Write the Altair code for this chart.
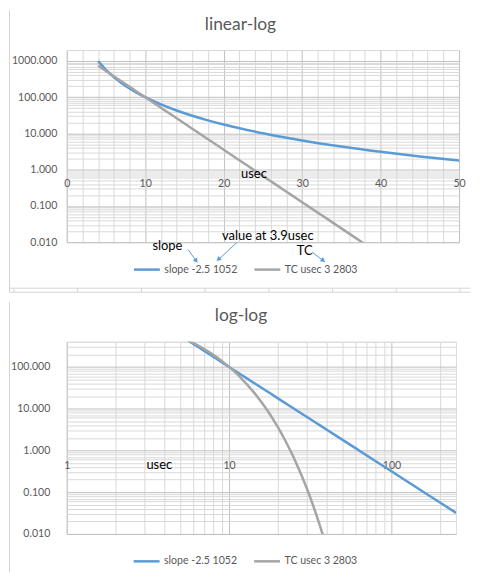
import altair as alt
import pandas as pd

# ---------------- data ----------------
SERIES_SLOPE = "slope -2.5 1052"
SERIES_TC = "TC usec 3 2803"

x_slope = [4, 5, 6, 7, 8, 9, 10, 12, 14, 16, 18, 20, 25, 30, 35, 40, 45, 50,
           60, 80, 100, 150, 200, 250]
y_slope = [988.2, 565.7, 358.6, 244.0, 174.7, 130.1, 100.0, 63.4, 43.1, 30.9,
           23.0, 17.68, 10.12, 6.415, 4.364, 3.125, 2.328, 1.789,
           1.134, 0.5524, 0.3162, 0.1148, 0.0559, 0.0320]

x_tc = [4, 5, 6, 7, 8, 9, 10, 11, 12, 13, 14, 15, 16, 17, 18, 19, 20,
        22, 24, 26, 28, 30, 32, 34, 36, 38, 40]
y_tc = [738.9, 529.4, 379.3, 271.8, 194.8, 139.6, 100.0, 71.65, 51.34, 36.79,
        26.36, 18.89, 13.53, 9.696, 6.948, 4.978, 3.567,
        1.831, 0.9403, 0.4828, 0.2479, 0.1273, 0.06534, 0.03355, 0.01722,
        0.008843, 0.004540]

# axis tick / grid values
top_x_ticks = [0, 2, 4, 6, 8, 10, 12, 14, 16, 18, 20, 22, 24, 26, 28, 30,
               32, 34, 36, 38, 40, 42, 44, 46, 48, 50]
decades_top_y = [0.01, 0.1, 1, 10, 100, 1000]
decades_bot_y = [0.01, 0.1, 1, 10, 100]
decades_bot_x = [1, 10, 100]
multipliers = [1, 2, 3, 4, 5, 6, 7, 8, 9]

top_y_ticks = [m * d for d in decades_top_y for m in multipliers] + [2000]
bot_y_ticks = [m * d for d in decades_bot_y for m in multipliers] + [200, 300, 400]
bot_x_ticks = [m * d for d in decades_bot_x for m in multipliers if m * d <= 250]

TITLE_TOP = "linear-log"
TITLE_BOT = "log-log"
AXIS_NAME = "usec"
NOTE_SLOPE = "slope"
NOTE_VALUE = "value at 3.9usec"
NOTE_TC = "TC"

df = pd.DataFrame({
    "x": x_slope + x_tc,
    "y": y_slope + y_tc,
    "series": [SERIES_SLOPE] * len(x_slope) + [SERIES_TC] * len(x_tc),
})
dummy = pd.DataFrame({"a": [0]})

# ---------------- styling ----------------
BLUE = "#5b9bd5"
GRAY = "#a5a5a5"
MAJOR = "#bfbfbf"
MINOR = "#d9d9d9"
TXT = "#595959"
BORDER = "#d4d4d4"
FONT = "Lato"

DEC = "abs(log(datum.value)/LN10 - round(log(datum.value)/LN10)) < 0.001"


def grid_color(test):
    return {"condition": {"test": test, "value": MAJOR}, "value": MINOR}


def text(s, x, y, size=13, color="black", align="left", baseline="alphabetic"):
    return alt.Chart(dummy).mark_text(
        text=s, font=FONT, fontSize=size, color=color, align=align, baseline=baseline
    ).encode(x=alt.value(x), y=alt.value(y))


def rule(x1, y1, x2, y2, color=BORDER, width=1, opacity=1):
    return alt.Chart(dummy).mark_rule(
        color=color, strokeWidth=width, strokeOpacity=opacity
    ).encode(x=alt.value(x1), y=alt.value(y1), x2=alt.value(x2), y2=alt.value(y2))


def head(x, y, angle):
    return alt.Chart(dummy).mark_point(
        shape="triangle", filled=True, size=28, angle=angle, color=BLUE, opacity=1
    ).encode(x=alt.value(x), y=alt.value(y))


def lines(xscale, xaxis, yscale, yaxis, legend):
    color = alt.Color(
        "series:N",
        scale=alt.Scale(domain=[SERIES_SLOPE, SERIES_TC], range=[BLUE, GRAY]),
        legend=legend,
    )
    out = []
    for s in [SERIES_SLOPE, SERIES_TC]:
        out.append(
            alt.Chart(df)
            .transform_filter(alt.datum.series == s)
            .mark_line(clip=True, strokeWidth=2.5, interpolate="monotone")
            .encode(
                x=alt.X("x:Q", scale=xscale, axis=xaxis),
                y=alt.Y("y:Q", scale=yscale, axis=yaxis),
                color=color,
            )
        )
    return out


def legend(lx, ly):
    # custom path: a 26px horizontal stroke drawn with a nominal 13px symbol size
    return alt.Legend(
        orient="none", legendX=lx, legendY=ly, direction="horizontal", title=None,
        symbolType="M-2,0H2", symbolSize=169, symbolStrokeWidth=2.5,
        labelFont=FONT, labelFontSize=10.6, labelColor=TXT,
        columnPadding=12, labelOffset=9.5,
    )


RIGHT = 405.5  # right end of the panel frame lines (relative to plot origin)

# ---------------- top panel: linear-log ----------------
W1, H1 = 394, 193
top_x_axis = alt.Axis(
    values=top_x_ticks, title=None, grid=True, gridColor=grid_color("datum.value % 10 == 0"),
    gridWidth=1, ticks=False, tickSize=0, domain=False, labelFlush=False,
    labelOverlap=False, labelExpr="datum.value % 10 == 0 ? datum.label : ''",
    labelFont=FONT, labelFontSize=10.6, labelColor=TXT, labelPadding=9,
    offset=-72.8, format="d",
)
top_y_axis = alt.Axis(
    values=top_y_ticks, title=None, grid=True, gridColor=grid_color(DEC), gridWidth=1,
    ticks=False, tickSize=0, domain=False, labelOverlap=False,
    labelExpr=DEC + " ? format(datum.value, '.3f') : ''",
    labelFont=FONT, labelFontSize=10.6, labelColor=TXT, labelPadding=10,
)
sheet_cols = [-53, 11, 75, 139, 203, 267, 331, 395]
top_layers = lines(
    alt.Scale(type="linear", domain=[0, 50], nice=False, zero=False), top_x_axis,
    alt.Scale(type="log", domain=[0.01, 2000], nice=False), top_y_axis,
    legend(72.5, 212.3),
) + [
    text(TITLE_TOP, 174.5, -20.2, size=17.5, color=TXT, align="center"),
    text(AXIS_NAME, 175, 128.5),
    text(NOTE_SLOPE, 86, 200.8),
    text(NOTE_VALUE, 156, 190.3),
    text(NOTE_TC, 231, 205.5),
    rule(122, 200.5, 130, 211.8, color=BLUE),
    rule(171, 193.2, 153, 209.8, color=BLUE),
    rule(246.7, 203.2, 257, 211, color=BLUE),
    head(129.6, 211.2, 144.7),
    head(152.8, 209.8, 227.6),
    head(257, 211, 126.9),
    rule(-57.5, -40, -57.5, 243.2),
    rule(-57.5, 239.2, RIGHT, 239.2),
    rule(-57.5, 243.2, RIGHT, 243.2),
] + [rule(c, 239.2, c, 243.2) for c in sheet_cols]
top = alt.layer(*top_layers).properties(width=W1, height=H1)

# ---------------- bottom panel: log-log ----------------
W2, H2 = 391, 193
bot_x_axis = alt.Axis(
    values=bot_x_ticks, title=None, grid=True, gridColor=grid_color(DEC), gridWidth=1,
    ticks=False, tickSize=0, domain=False, labelFlush=False, labelOverlap=False,
    labelExpr=DEC + " ? format(datum.value, 'd') : ''",
    labelFont=FONT, labelFontSize=10.6, labelColor=TXT, labelPadding=10,
    offset=-83.9,
)
bot_y_axis = alt.Axis(
    values=bot_y_ticks, title=None, grid=True, gridColor=grid_color(DEC), gridWidth=1,
    ticks=False, tickSize=0, domain=False, labelOverlap=False,
    labelExpr=DEC + " ? format(datum.value, '.3f') : ''",
    labelFont=FONT, labelFontSize=10.6, labelColor=TXT, labelPadding=17,
)
bot_layers = lines(
    alt.Scale(type="log", domain=[1, 250], nice=False), bot_x_axis,
    alt.Scale(type="log", domain=[0.01, 400], nice=False), bot_y_axis,
    legend(72.2, 212.3),
) + [
    text(TITLE_BOT, 175, -21.2, size=17.5, color=TXT, align="center"),
    text(AXIS_NAME, 80, 127.8),
    rule(-57.5, -40, -57.5, 231.5),
    rule(-57.5, -40, RIGHT, -40, opacity=0),
]
bottom = alt.layer(*bot_layers).properties(width=W2, height=H2)

chart = (
    alt.vconcat(top, bottom, spacing=7)
    .resolve_scale(x="independent", y="independent", color="independent")
    .resolve_legend(color="independent")
    .properties(padding=0, background="white")
    .configure_view(stroke=MINOR)
    .configure(font=FONT)
)

chart.save("out.html", embed_options={"renderer": "svg", "actions": False})
